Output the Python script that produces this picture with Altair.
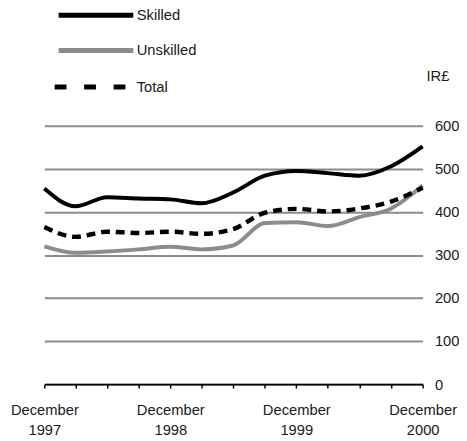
import altair as alt
import pandas as pd

dates = ["1997-12-01", "1998-03-01", "1998-06-01", "1998-09-01", "1998-12-01",
         "1999-03-01", "1999-06-01", "1999-09-01", "1999-12-01", "2000-03-01",
         "2000-06-01", "2000-09-01", "2000-12-01"]
skilled = [454, 413, 434, 431, 429, 420, 445, 484, 495, 490, 484, 506, 552]
unskilled = [320, 305, 308, 313, 319, 313, 322, 374, 376, 367, 388, 408, 461]
total = [365, 342, 354, 351, 354, 349, 360, 398, 407, 401, 408, 424, 456]

solid_names = ["Skilled", "Unskilled"]
solid_colors = ["#000000", "#8c8c8c"]
dash_names = ["Total"]
dash_colors = ["#000000"]
y_ticks = [0, 100, 200, 300, 400, 500, 600]
x_tick_dates = dates

rows = []
for name, vals in zip(["Skilled", "Unskilled", "Total"], [skilled, unskilled, total]):
    for d, v in zip(dates, vals):
        rows.append({"date": d, "value": v, "series": name})
df = pd.DataFrame(rows)


def to_dt(s):
    y, m, d = s.split("-")
    return alt.DateTime(year=int(y), month=int(m), date=int(d), utc=True)


FONT = "Liberation Sans"
TXT = "#1a1a1a"

x_enc = alt.X("date:T",
              scale=alt.Scale(type="utc", nice=False),
              axis=alt.Axis(
                  title=None,
                  values=[to_dt(s) for s in x_tick_dates],
                  labelExpr="utcmonth(datum.value) == 11 ? [utcFormat(datum.value, '%B'), utcFormat(datum.value, '%Y')] : ''",
                  labelFlush=False, labelOverlap=False, labelBound=False,
                  grid=False, domainColor="#000000", domainWidth=2,
                  tickColor="#000000", tickWidth=1.5, tickSize=4,
                  labelPadding=15, labelLineHeight=20, labelFontSize=15,
                  labelFont=FONT, labelColor=TXT, zindex=1,
              ))
y_enc = alt.Y("value:Q",
              scale=alt.Scale(domain=[0, 600], nice=False),
              axis=alt.Axis(
                  orient="right", title="IR£", titleAngle=0, titleX=15, titleY=-51,
                  titleAlign="center", titleBaseline="middle", titleFontSize=15,
                  titleFontWeight="normal", titleFont=FONT, titleColor=TXT,
                  values=y_ticks, grid=True, gridColor="#8c8c8c", gridWidth=2,
                  domain=False, ticks=False, labelPadding=12, labelFontSize=15,
                  labelFont=FONT, labelColor=TXT,
              ))

legend_common = dict(
    title=None, orient="none", symbolType="M-5,0H5", symbolSize=231,
    symbolStrokeWidth=5, labelFontSize=15, labelFont=FONT, labelColor=TXT,
    padding=0,
)

solid = alt.Chart(df).transform_filter(
    alt.FieldOneOfPredicate(field="series", oneOf=solid_names)
).mark_line(interpolate="monotone", strokeWidth=4, strokeCap="butt").encode(
    x=x_enc, y=y_enc,
    color=alt.Color("series:N",
                    scale=alt.Scale(domain=solid_names, range=solid_colors),
                    sort=solid_names,
                    legend=alt.Legend(legendX=42, legendY=-123, rowPadding=15,
                                      labelOffset=31, **legend_common)),
)

dashed = alt.Chart(df).transform_filter(
    alt.FieldOneOfPredicate(field="series", oneOf=dash_names)
).mark_line(interpolate="monotone", strokeWidth=4.5, strokeCap="butt",
            strokeDash=[9, 6]).encode(
    x=x_enc, y=y_enc,
    color=alt.Color("series:N",
                    scale=alt.Scale(domain=dash_names, range=dash_colors),
                    legend=alt.Legend(legendX=38, legendY=-50, symbolDash=[12, 18],
                                      labelOffset=35, **legend_common)),
)

chart = alt.layer(solid, dashed).resolve_scale(color="independent").resolve_legend(
    color="independent"
).properties(
    width=385, height=263,
    autosize=alt.AutoSizeParams(type="none"),
    padding={"left": 37, "top": 116, "right": 37, "bottom": 52},
).configure_view(stroke=None)

chart.save("out.html", embed_options={"renderer": "svg", "actions": False})
